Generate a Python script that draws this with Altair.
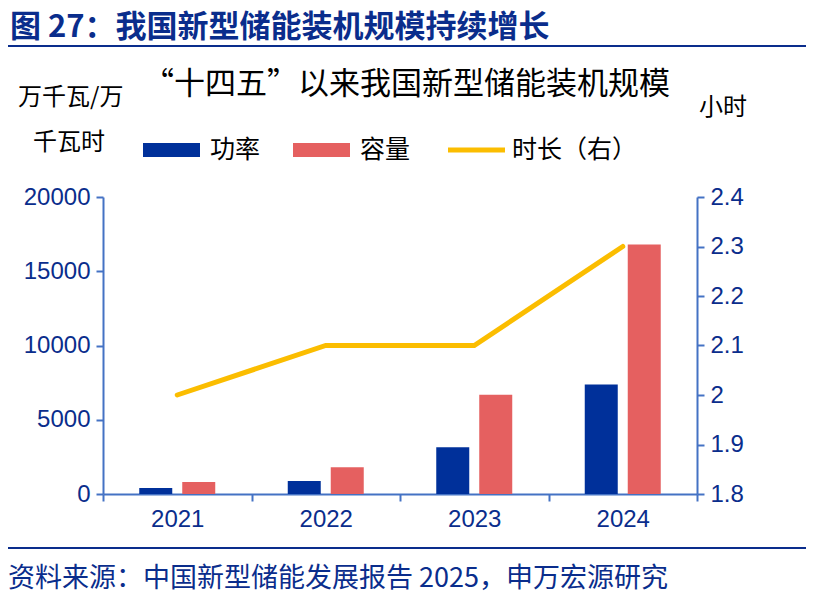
import altair as alt
import pandas as pd

years = ["2021", "2022", "2023", "2024"]
power = [400, 870, 3140, 7380]
capacity = [800, 1800, 6690, 16800]
hours = [2.0, 2.1, 2.1, 2.3]

series_names = ["功率", "容量"]
series_colors = ["#00309a", "#e56060"]
line_name = "时长（右）"
line_color = "#fbbd00"
text_color = "#0a2d8c"
axis_color = "#4472c4"
font = "Noto Sans CJK SC"
num_font = "Liberation Sans"

bars = pd.DataFrame({
    "year": years * 2,
    "series": [series_names[0]] * 4 + [series_names[1]] * 4,
    "value": power + capacity,
})
line_df = pd.DataFrame({"year": years, "hours": hours})

W, H = 594, 297

x_axis = alt.Axis(labelAngle=0, labelFontSize=24, labelColor=text_color, labelFont=num_font,
                  domainColor=axis_color, domainWidth=2, tickColor=axis_color, tickWidth=2,
                  tickBand="extent", tickSize=7, labelPadding=6)
x = alt.X("year:N", title=None, sort=years,
          scale=alt.Scale(paddingInner=0, paddingOuter=0), axis=x_axis)

bar = alt.Chart(bars).mark_bar(size=33).encode(
    x=x,
    xOffset=alt.XOffset("series:N", sort=series_names,
                        scale=alt.Scale(paddingInner=0, paddingOuter=0.727)),
    y=alt.Y("value:Q", title=None, scale=alt.Scale(domain=[0, 20000]),
            axis=alt.Axis(values=[0, 5000, 10000, 15000, 20000], format="d", grid=False,
                          domainColor=axis_color, domainWidth=2, tickColor=axis_color,
                          tickWidth=2, tickSize=7, labelFontSize=24, labelColor=text_color,
                          labelFont=num_font, labelPadding=6)),
    color=alt.Color("series:N", scale=alt.Scale(domain=series_names, range=series_colors),
                    legend=None),
)

line = alt.Chart(line_df).mark_line(color=line_color, strokeWidth=5, strokeCap="round").encode(
    x=x,
    y=alt.Y("hours:Q", title=None, scale=alt.Scale(domain=[1.8, 2.4]),
            axis=alt.Axis(orient="right", values=[1.8, 1.9, 2.0, 2.1, 2.2, 2.3, 2.4],
                          format="~g", grid=False, domainColor=axis_color, domainWidth=2,
                          tickColor=axis_color, tickWidth=2, tickSize=7,
                          labelFontSize=24, labelColor=text_color, labelFont=num_font,
                          labelPadding=6)),
)

texts = pd.DataFrame({
    "t": ["图 27：我国新型储能装机规模持续增长", "“十四五”以来我国新型储能装机规模",
          "万千瓦/万", "千瓦时", "小时", "资料来源：中国新型储能发展报告 2025，申万宏源研究",
          series_names[0], series_names[1], line_name],
    "x": [-93, 40, -85, -70, 596, -95, 107, 257, 409],
    "y": [-169, -112, -99, -54, -89, 382, -47, -47, -47],
    "size": [31, 31, 24, 24, 24, 27, 25, 25, 25],
    "weight": ["bold", "normal", "normal", "normal", "normal", "normal", "normal", "normal", "normal"],
    "color": [text_color, "#000000", "#000000", "#000000", "#000000", text_color,
              "#000000", "#000000", "#000000"],
})
label_layers = []
for _, r in texts.iterrows():
    label_layers.append(
        alt.Chart(pd.DataFrame({"t": [r["t"]]})).mark_text(
            align="left", baseline="middle", font=font, fontSize=int(r["size"]),
            fontWeight=r["weight"], color=r["color"]
        ).encode(x=alt.value(int(r["x"])), y=alt.value(int(r["y"])), text="t:N")
    )

swatches = [(40, 97, series_colors[0], 14), (190, 247, series_colors[1], 14), (345, 402, line_color, 5)]
for x0, x1, c, w in swatches:
    label_layers.append(
        alt.Chart(pd.DataFrame({"a": [0]})).mark_rule(color=c, strokeWidth=w).encode(
            x=alt.value(x0), x2=alt.value(x1), y=alt.value(-47))
    )

for yy in [-151, 351]:
    label_layers.append(
        alt.Chart(pd.DataFrame({"a": [0]})).mark_rule(color=text_color, strokeWidth=2).encode(
            x=alt.value(-95), x2=alt.value(705), y=alt.value(yy))
    )

chart = alt.layer(bar, line, *label_layers).resolve_scale(y="independent").properties(
    width=W, height=H, autosize=alt.AutoSizeParams(type="none"),
    padding={"left": 95, "right": 109, "top": 189, "bottom": 100},
).configure_view(stroke=None).configure_axis(labelFont=num_font)

chart.save("out.html", embed_options={"renderer": "svg", "actions": False})
